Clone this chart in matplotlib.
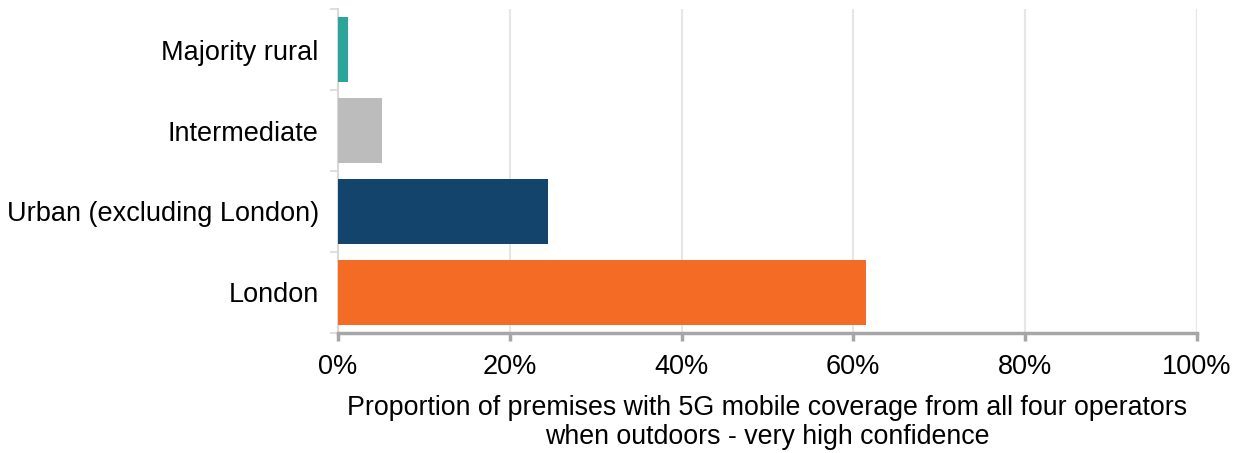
import matplotlib.pyplot as plt
from matplotlib.ticker import PercentFormatter

plt.rcParams['font.family'] = ['Liberation Sans', 'DejaVu Sans']

# data (top to bottom)
regions = ['Majority rural', 'Intermediate', 'Urban (excluding London)', 'London']
coverage = [1.1, 5.1, 24.5, 61.5]
colours = ['#2ba597', '#bcbcbc', '#13446c', '#f36b25']

fig = plt.figure(figsize=(12.37, 4.53), dpi=100)
ax = fig.add_axes([0.2733, 0.265, 0.6942, 0.715])

ypos = list(range(len(regions)))
ax.barh(ypos, coverage, height=0.8, color=colours, zorder=3)

ax.set_xlim(0, 100)
ax.set_ylim(len(regions) - 0.5, -0.5)
ax.set_yticks(ypos)
ax.set_yticklabels(regions)
ax.set_yticks([i - 0.5 for i in range(len(regions) + 1)], minor=True)
ax.tick_params(axis='y', which='major', length=0, pad=14, labelsize=19.5)
ax.tick_params(axis='y', which='minor', length=6, width=1.2, color='#d9d9d9')

ax.set_xticks(range(0, 101, 20))
ax.xaxis.set_major_formatter(PercentFormatter(decimals=0))
ax.tick_params(axis='x', length=6, width=2.5, color='#a6a6a6', labelsize=19.5, pad=9)
ax.grid(axis='x', color='#e6e6e6', linewidth=1.5, zorder=0)

for s in ['top', 'right']:
    ax.spines[s].set_visible(False)
ax.spines['left'].set_color('#d9d9d9')
ax.spines['left'].set_linewidth(1.5)
ax.spines['bottom'].set_color('#a6a6a6')
ax.spines['bottom'].set_linewidth(2.5)

ax.set_xlabel('Proportion of premises with 5G mobile coverage from all four operators\n'
              'when outdoors - very high confidence', fontsize=19.3, labelpad=11,
              linespacing=1.13)

fig.savefig('out.png')
